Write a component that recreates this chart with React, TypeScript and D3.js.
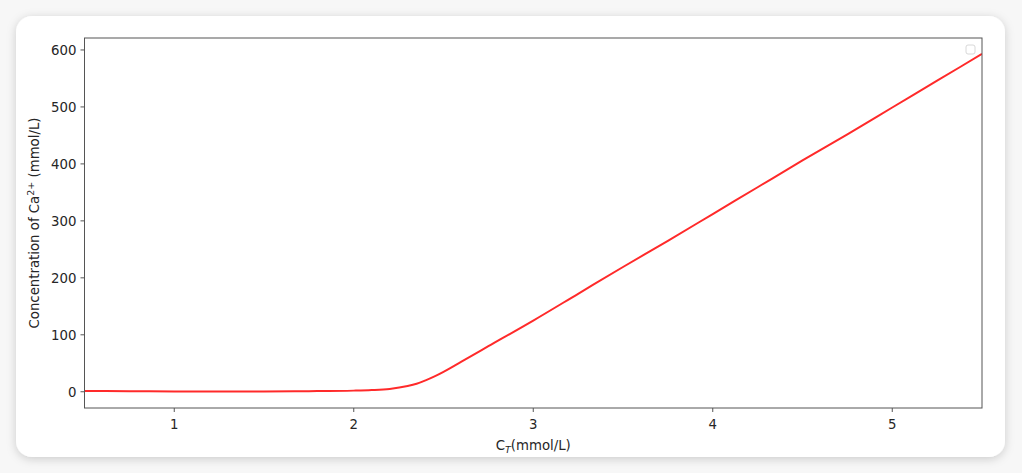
import React from "react";
import * as d3 from "d3";

const cT = [0.5, 0.75, 1.0, 1.25, 1.5, 1.75, 2.0, 2.1, 2.2, 2.3, 2.35, 2.4, 2.45, 2.5, 2.6, 2.75, 3.0, 3.25, 3.5, 3.75, 4.0, 4.25, 4.5, 4.75, 5.0, 5.25, 5.5];
const caConc = [1.5, 1.0, 0.6, 0.5, 0.6, 1.0, 2.0, 3.0, 5, 10, 14, 20, 27, 35, 53, 80, 125, 172, 219, 265, 312, 359, 406, 452, 499, 546, 593];
const xTicks = [1, 2, 3, 4, 5];
const yTicks = [0, 100, 200, 300, 400, 500, 600];

export default function App() {
  const W = 1022, H = 473;
  const L = 84.5, R = 982, T = 38, B = 408;
  const x = d3.scaleLinear().domain([0.5, 5.5]).range([L, R]);
  const y = d3.scaleLinear().domain([-28.5, 621]).range([B, T]);
  const line = d3.line<number>().x((_, i) => x(cT[i])).y(d => y(d)).curve(d3.curveMonotoneX);
  const font = "'DejaVu Sans', sans-serif";
  const txt = "#262626";
  const fs = 13.3;
  return (
    <svg width={W} height={H} style={{ position: "absolute", left: 0, top: 0 }} fontFamily={font}>
      <defs>
        <filter id="sh" x="-5%" y="-5%" width="110%" height="115%">
          <feDropShadow dx="0" dy="2" stdDeviation="5" floodColor="#000" floodOpacity="0.18" />
        </filter>
        <clipPath id="clip"><rect x={L} y={T} width={R - L} height={B - T} /></clipPath>
      </defs>
      <rect x={0} y={0} width={W} height={H} fill="#f7f7f7" />
      <rect x={16} y={16} width={989} height={441} rx={16} fill="#fff" filter="url(#sh)" />
      <path d={line(caConc) || ""} fill="none" stroke="#ff2a2a" strokeWidth={2} clipPath="url(#clip)" />
      <rect x={L} y={T} width={R - L} height={B - T} fill="none" stroke="#555" strokeWidth={1} />
      {xTicks.map(t => (
        <g key={t}>
          <line x1={x(t)} x2={x(t)} y1={B} y2={B + 4} stroke="#555" />
          <text x={x(t)} y={B + 21} textAnchor="middle" fontSize={fs} fill={txt}>{t}</text>
        </g>
      ))}
      {yTicks.map(t => (
        <g key={t}>
          <line x1={L - 4} x2={L} y1={y(t)} y2={y(t)} stroke="#555" />
          <text x={L - 8} y={y(t) + 5} textAnchor="end" fontSize={fs} fill={txt}>{t}</text>
        </g>
      ))}
      <text x={(L + R) / 2} y={450} textAnchor="middle" fontSize={fs} fill={txt}>
        C<tspan fontSize={9.5} fontStyle="italic" dy={3}>T</tspan><tspan dy={-3}>(mmol/L)</tspan>
      </text>
      <text transform={`translate(39,${(T + B) / 2}) rotate(-90)`} textAnchor="middle" fontSize={fs} fill={txt}>
        Concentration of Ca<tspan fontSize={9.5} dy={-5}>2+</tspan><tspan dy={5}> (mmol/L)</tspan>
      </text>
      <rect x={966} y={45} width={9} height={9} rx={2} fill="#fff" stroke="#d8d8d8" strokeWidth={1} />
    </svg>
  );
}
